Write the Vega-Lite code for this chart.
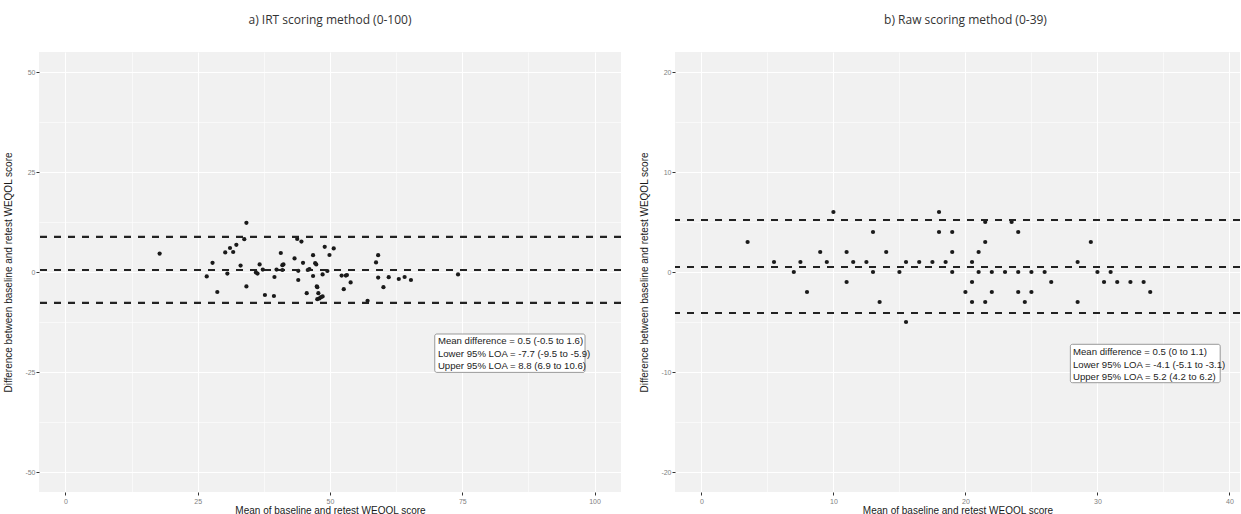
{
  "$schema": "https://vega.github.io/schema/vega-lite/v6.json",
  "padding": {"left": 3, "top": 14, "right": 0, "bottom": 0},
  "background": "white",
  "spacing": 16,
  "config": {
    "view": {"fill": "#F1F1F1", "stroke": null},
    "axis": {
      "domain": false,
      "gridColor": "#FFFFFF",
      "gridWidth": 1.1,
      "tickColor": "#333333",
      "tickSize": 3,
      "tickWidth": 1,
      "labelFont": "Liberation Sans",
      "labelFontSize": 7,
      "labelColor": "#808080",
      "titleFont": "Liberation Sans",
      "titleFontSize": 10,
      "titleFontWeight": "normal",
      "titleColor": "#1a1a1a"
    },
    "title": {"font": "Open Sans", "fontSize": 12, "fontWeight": "normal", "color": "#333333", "frame": "group", "anchor": "middle"}
  },
  "datasets": {
    "irtPoints": [
      {"x": 17.8, "y": 4.6}, {"x": 26.7, "y": -1.1}, {"x": 27.8, "y": 2.3}, {"x": 28.7, "y": -5.0},
      {"x": 30.2, "y": 4.9}, {"x": 30.6, "y": -0.4}, {"x": 31.1, "y": 6.0}, {"x": 31.7, "y": 5.0},
      {"x": 32.3, "y": 6.8}, {"x": 33.1, "y": 1.6}, {"x": 33.8, "y": 8.2}, {"x": 34.2, "y": 12.3},
      {"x": 34.2, "y": -3.6}, {"x": 36.0, "y": -0.1}, {"x": 36.3, "y": -0.4}, {"x": 36.7, "y": 1.9},
      {"x": 37.3, "y": 0.6}, {"x": 37.7, "y": -5.75}, {"x": 39.4, "y": -6.0}, {"x": 39.5, "y": -1.25},
      {"x": 39.9, "y": 0.6}, {"x": 40.7, "y": 4.75}, {"x": 41.0, "y": 1.7}, {"x": 41.2, "y": 1.9},
      {"x": 41.0, "y": 0.5}, {"x": 43.3, "y": 3.4}, {"x": 43.8, "y": 8.25}, {"x": 44.6, "y": 7.6},
      {"x": 44.0, "y": 0.3}, {"x": 44.0, "y": -2.0}, {"x": 44.9, "y": 2.3}, {"x": 45.6, "y": -5.3},
      {"x": 45.8, "y": 0.5}, {"x": 46.1, "y": 0.7}, {"x": 46.8, "y": 4.2}, {"x": 47.2, "y": 2.2},
      {"x": 47.4, "y": 1.9}, {"x": 46.8, "y": -1.0}, {"x": 47.5, "y": -3.6}, {"x": 47.6, "y": -3.8},
      {"x": 47.8, "y": -5.3}, {"x": 47.6, "y": -6.8}, {"x": 48.0, "y": -6.6}, {"x": 48.3, "y": -6.3},
      {"x": 48.6, "y": -6.1}, {"x": 48.6, "y": -0.6}, {"x": 49.0, "y": 6.3}, {"x": 49.5, "y": 0.25},
      {"x": 49.9, "y": 4.25}, {"x": 50.7, "y": 5.9}, {"x": 52.2, "y": -0.9}, {"x": 53.0, "y": -0.9},
      {"x": 53.2, "y": -0.75}, {"x": 52.6, "y": -4.3}, {"x": 53.9, "y": -2.6}, {"x": 57.1, "y": -7.2},
      {"x": 58.7, "y": 2.4}, {"x": 59.1, "y": 4.2}, {"x": 59.1, "y": -1.4}, {"x": 60.1, "y": -3.8},
      {"x": 61.1, "y": -1.3}, {"x": 63.0, "y": -1.75}, {"x": 64.1, "y": -1.25}, {"x": 65.3, "y": -2.0},
      {"x": 74.2, "y": -0.6}
    ],
    "irtLines": [{"stat": "Mean difference", "value": 0.5}, {"stat": "Lower 95% LOA", "value": -7.7}, {"stat": "Upper 95% LOA", "value": 8.8}],
    "irtBox": [{"x1": 69.8, "x2": 98.2, "y1": -15.5, "y2": -25.1}],
    "irtText": [
      {"x": 70.4, "y": -17.3, "label": "Mean difference = 0.5 (-0.5 to 1.6)"},
      {"x": 70.4, "y": -20.45, "label": "Lower 95% LOA = -7.7 (-9.5 to -5.9)"},
      {"x": 70.4, "y": -23.6, "label": "Upper 95% LOA = 8.8 (6.9 to 10.6)"}
    ],
    "rawPoints": [
      {"x": 3.5, "y": 3}, {"x": 5.5, "y": 1}, {"x": 7, "y": 0}, {"x": 7.5, "y": 1}, {"x": 8, "y": -2},
      {"x": 9, "y": 2}, {"x": 9.5, "y": 1}, {"x": 10, "y": 6}, {"x": 11, "y": 2}, {"x": 11, "y": -1},
      {"x": 11.5, "y": 1}, {"x": 12.5, "y": 1}, {"x": 13, "y": 4}, {"x": 13, "y": 0}, {"x": 13.5, "y": -3},
      {"x": 14, "y": 2}, {"x": 15, "y": 0}, {"x": 15.5, "y": 1}, {"x": 15.5, "y": -5}, {"x": 16.5, "y": 1},
      {"x": 17.5, "y": 1}, {"x": 18, "y": 6}, {"x": 18, "y": 4}, {"x": 18.5, "y": 1}, {"x": 19, "y": 4},
      {"x": 19, "y": 2}, {"x": 19, "y": 0}, {"x": 20, "y": -2}, {"x": 20.5, "y": 1}, {"x": 20.5, "y": -1},
      {"x": 20.5, "y": -3}, {"x": 21, "y": 2}, {"x": 21, "y": 0}, {"x": 21.5, "y": 5}, {"x": 21.5, "y": 3},
      {"x": 21.5, "y": -3}, {"x": 22, "y": 0}, {"x": 22, "y": -2}, {"x": 23, "y": 0}, {"x": 23.5, "y": 5},
      {"x": 24, "y": 4}, {"x": 24, "y": 0}, {"x": 24, "y": -2}, {"x": 24.5, "y": -3}, {"x": 25, "y": 0},
      {"x": 25, "y": -2}, {"x": 26, "y": 0}, {"x": 26.5, "y": -1}, {"x": 28.5, "y": 1}, {"x": 28.5, "y": -3},
      {"x": 29.5, "y": 3}, {"x": 30, "y": 0}, {"x": 30.5, "y": -1}, {"x": 31, "y": 0}, {"x": 31.5, "y": -1},
      {"x": 32.5, "y": -1}, {"x": 33.5, "y": -1}, {"x": 34, "y": -2}
    ],
    "rawLines": [{"stat": "Mean difference", "value": 0.5}, {"stat": "Lower 95% LOA", "value": -4.1}, {"stat": "Upper 95% LOA", "value": 5.2}],
    "rawBox": [{"x1": 27.95, "x2": 39.3, "y1": -7.23, "y2": -11.07}],
    "rawText": [
      {"x": 28.15, "y": -8.0, "label": "Mean difference = 0.5 (0 to 1.1)"},
      {"x": 28.15, "y": -9.25, "label": "Lower 95% LOA = -4.1 (-5.1 to -3.1)"},
      {"x": 28.15, "y": -10.5, "label": "Upper 95% LOA = 5.2 (4.2 to 6.2)"}
    ]
  },
  "hconcat": [
    {
      "width": 582,
      "height": 440,
      "title": {"text": "a)   IRT scoring method (0-100)", "offset": 25},
      "layer": [
        {
          "data": {"name": "irtPoints"},
          "mark": {"type": "point", "opacity": 0},
          "encoding": {
            "x": {"field": "x", "type": "quantitative", "scale": {"domain": [-5, 105], "nice": false, "zero": false},
                  "axis": {"orient": "bottom", "values": [12.5, 37.5, 62.5, 87.5], "grid": true, "gridWidth": 0.55, "labels": false, "ticks": false, "title": null}},
            "y": {"field": "y", "type": "quantitative", "scale": {"domain": [-55, 55], "nice": false, "zero": false},
                  "axis": {"orient": "left", "values": [-37.5, -12.5, 12.5, 37.5], "grid": true, "gridWidth": 0.55, "labels": false, "ticks": false, "title": null}}
          }
        },
        {
          "data": {"name": "irtPoints"},
          "mark": {"type": "circle", "size": 18, "color": "#1a1a1a", "opacity": 1},
          "encoding": {
            "x": {"field": "x", "type": "quantitative", "scale": {"domain": [-5, 105], "nice": false, "zero": false},
                  "axis": {"orient": "bottom", "values": [0, 25, 50, 75, 100], "grid": true, "labelPadding": 2, "titlePadding": 1, "title": "Mean of baseline and retest WEQOL score"}},
            "y": {"field": "y", "type": "quantitative", "scale": {"domain": [-55, 55], "nice": false, "zero": false},
                  "axis": {"orient": "left", "values": [-50, -25, 0, 25, 50], "grid": true, "labelPadding": 1, "titlePadding": 11, "labelExpr": "toString(datum.value)", "title": "Difference between baseline and retest WEQOL score"}}
          }
        },
        {
          "data": {"name": "irtLines"},
          "mark": {"type": "rule", "strokeDash": [7, 7], "strokeWidth": 2.2, "color": "#222222"},
          "encoding": {
            "y": {"field": "value", "type": "quantitative", "scale": {"domain": [-55, 55], "nice": false, "zero": false}, "axis": null}
          }
        },
        {
          "data": {"name": "irtBox"},
          "mark": {"type": "rect", "fill": "#FFFFFF", "stroke": "#808080", "strokeWidth": 0.8, "cornerRadius": 2},
          "encoding": {
            "x": {"field": "x1", "type": "quantitative", "scale": {"domain": [-5, 105], "nice": false, "zero": false}, "axis": null},
            "x2": {"field": "x2"},
            "y": {"field": "y1", "type": "quantitative", "scale": {"domain": [-55, 55], "nice": false, "zero": false}, "axis": null},
            "y2": {"field": "y2"}
          }
        },
        {
          "data": {"name": "irtText"},
          "mark": {"type": "text", "align": "left", "baseline": "middle", "font": "Liberation Sans", "fontSize": 9.6, "color": "#222222"},
          "encoding": {
            "x": {"field": "x", "type": "quantitative", "scale": {"domain": [-5, 105], "nice": false, "zero": false}, "axis": null},
            "y": {"field": "y", "type": "quantitative", "scale": {"domain": [-55, 55], "nice": false, "zero": false}, "axis": null},
            "text": {"field": "label"}
          }
        }
      ],
      "resolve": {"axis": {"x": "independent", "y": "independent"}}
    },
    {
      "width": 565,
      "height": 440,
      "title": {"text": "b)   Raw scoring method (0-39)", "offset": 25, "dx": 8},
      "layer": [
        {
          "data": {"name": "rawPoints"},
          "mark": {"type": "point", "opacity": 0},
          "encoding": {
            "x": {"field": "x", "type": "quantitative", "scale": {"domain": [-2, 40.8], "nice": false, "zero": false},
                  "axis": {"orient": "bottom", "values": [5, 15, 25, 35], "grid": true, "gridWidth": 0.55, "labels": false, "ticks": false, "title": null}},
            "y": {"field": "y", "type": "quantitative", "scale": {"domain": [-22, 22], "nice": false, "zero": false},
                  "axis": {"orient": "left", "values": [-15, -5, 5, 15], "grid": true, "gridWidth": 0.55, "labels": false, "ticks": false, "title": null}}
          }
        },
        {
          "data": {"name": "rawPoints"},
          "mark": {"type": "circle", "size": 18, "color": "#1a1a1a", "opacity": 1},
          "encoding": {
            "x": {"field": "x", "type": "quantitative", "scale": {"domain": [-2, 40.8], "nice": false, "zero": false},
                  "axis": {"orient": "bottom", "values": [0, 10, 20, 30, 40], "grid": true, "labelPadding": 2, "titlePadding": 1, "title": "Mean of baseline and retest WEQOL score"}},
            "y": {"field": "y", "type": "quantitative", "scale": {"domain": [-22, 22], "nice": false, "zero": false},
                  "axis": {"orient": "left", "values": [-20, -10, 0, 10, 20], "grid": true, "labelPadding": 1, "titlePadding": 11, "labelExpr": "toString(datum.value)", "title": "Difference between baseline and retest WEQOL score"}}
          }
        },
        {
          "data": {"name": "rawLines"},
          "mark": {"type": "rule", "strokeDash": [7, 7], "strokeWidth": 2.2, "color": "#222222"},
          "encoding": {
            "y": {"field": "value", "type": "quantitative", "scale": {"domain": [-22, 22], "nice": false, "zero": false}, "axis": null}
          }
        },
        {
          "data": {"name": "rawBox"},
          "mark": {"type": "rect", "fill": "#FFFFFF", "stroke": "#808080", "strokeWidth": 0.8, "cornerRadius": 2},
          "encoding": {
            "x": {"field": "x1", "type": "quantitative", "scale": {"domain": [-2, 40.8], "nice": false, "zero": false}, "axis": null},
            "x2": {"field": "x2"},
            "y": {"field": "y1", "type": "quantitative", "scale": {"domain": [-22, 22], "nice": false, "zero": false}, "axis": null},
            "y2": {"field": "y2"}
          }
        },
        {
          "data": {"name": "rawText"},
          "mark": {"type": "text", "align": "left", "baseline": "middle", "font": "Liberation Sans", "fontSize": 9.6, "color": "#222222"},
          "encoding": {
            "x": {"field": "x", "type": "quantitative", "scale": {"domain": [-2, 40.8], "nice": false, "zero": false}, "axis": null},
            "y": {"field": "y", "type": "quantitative", "scale": {"domain": [-22, 22], "nice": false, "zero": false}, "axis": null},
            "text": {"field": "label"}
          }
        }
      ],
      "resolve": {"axis": {"x": "independent", "y": "independent"}}
    }
  ]
}
